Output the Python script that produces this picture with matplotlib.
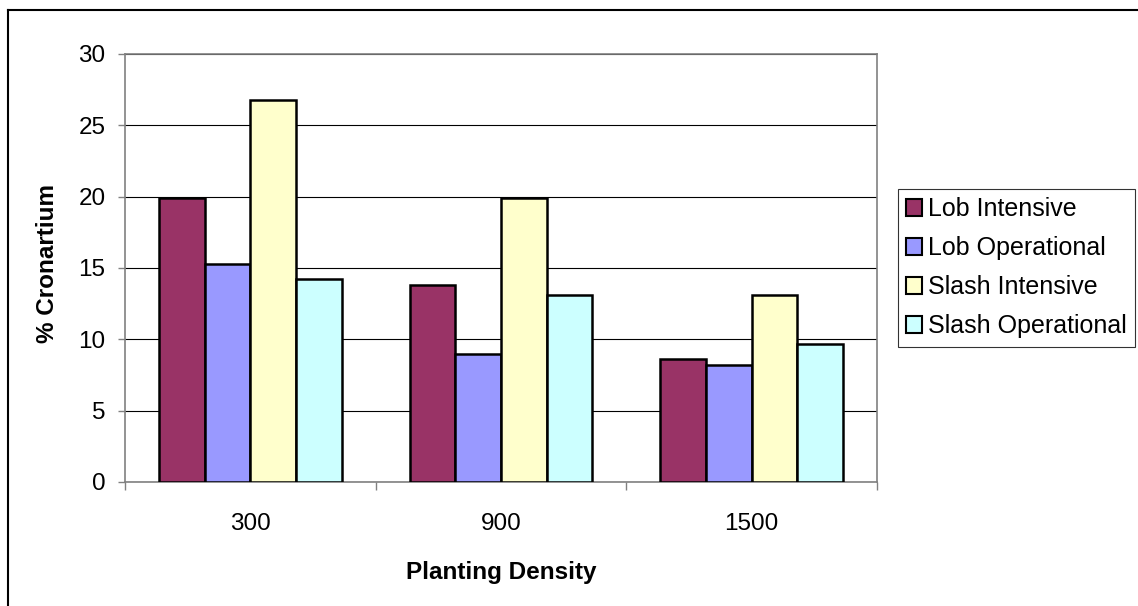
import numpy as np
import matplotlib
matplotlib.use("Agg")
import matplotlib.pyplot as plt
from matplotlib.lines import Line2D

plt.rcParams['font.family'] = ['Liberation Sans', 'DejaVu Sans']

# data
densities = ["300", "900", "1500"]
series_names = ["Lob Intensive", "Lob Operational", "Slash Intensive", "Slash Operational"]
lob_intensive = [19.9, 13.8, 8.65]
lob_operational = [15.3, 9.0, 8.2]
slash_intensive = [26.8, 19.9, 13.1]
slash_operational = [14.2, 13.1, 9.7]
colors = ["#993366", "#9999FF", "#FFFFCC", "#CCFFFF"]
y_ticks = [0, 5, 10, 15, 20, 25, 30]

W, H = 1138, 606
fig = plt.figure(figsize=(W / 100, H / 100), dpi=100)
ax = fig.add_axes([125 / W, 1 - 482 / H, (877 - 125) / W, (482 - 54) / H])

x = np.arange(len(densities))
bw = 0.182
all_series = [lob_intensive, lob_operational, slash_intensive, slash_operational]
for i, (vals, name, c) in enumerate(zip(all_series, series_names, colors)):
    ax.bar(x + (i - 1.5) * bw, vals, width=bw, color=c, edgecolor="black",
           linewidth=1.8, label=name, zorder=3)

ax.set_xlim(-0.5, 2.5)
ax.set_ylim(0, 30)
ax.set_yticks(y_ticks)
ax.yaxis.grid(True, color="black", linewidth=0.8, zorder=0)
ax.set_axisbelow(True)

ax.set_xticks(x)
ax.set_xticklabels(densities)
ax.set_xticks(np.arange(-0.5, 3.0, 1.0), minor=True)
ax.tick_params(axis="x", which="major", length=0, pad=22, labelsize=17.5)
ax.tick_params(axis="x", which="minor", length=6, color="#808080", width=1)
ax.tick_params(axis="y", length=5, color="#808080", width=1, pad=9, labelsize=17.5)

for s in ax.spines.values():
    s.set_color("#808080")
    s.set_linewidth(1.2)

fig.text(48 / W, 1 - 264 / H, "% Cronartium", rotation=90, ha="center",
         va="center", fontsize=17.5, fontweight="bold")
fig.text(501 / W, 1 - 572 / H, "Planting Density", ha="center", va="center",
         fontsize=17.5, fontweight="bold")

leg = ax.legend(loc="upper left", bbox_to_anchor=(898 / W, 1 - 189 / H),
                bbox_transform=fig.transFigure, fontsize=18, frameon=True,
                fancybox=False, edgecolor="black", handlelength=0.62,
                handleheight=0.62, handletextpad=0.25, labelspacing=0.6,
                borderpad=0.33, borderaxespad=0)
leg.get_frame().set_linewidth(0.8)
for h in leg.legend_handles:
    h.set_linewidth(1.5)

# outer chart frame (left and top edges visible)
fig.add_artist(Line2D([8 / W, 8 / W], [0, 1 - 10 / H], color="black", linewidth=1.5,
                      transform=fig.transFigure))
fig.add_artist(Line2D([8 / W, 1], [1 - 10 / H, 1 - 10 / H], color="black", linewidth=1.5,
                      transform=fig.transFigure))

fig.savefig("out.png", dpi=100)
